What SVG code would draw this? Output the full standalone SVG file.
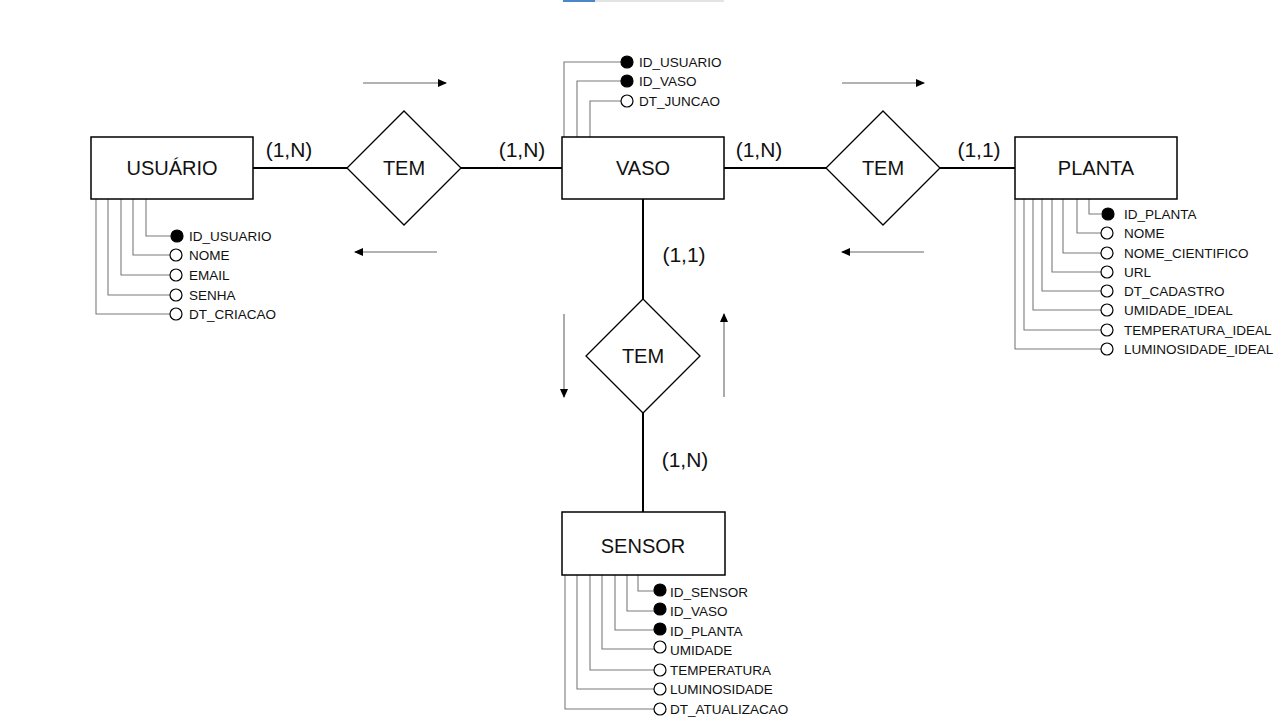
<svg xmlns="http://www.w3.org/2000/svg" width="1287" height="723" viewBox="0 0 1287 723">
<defs>
<style>
.ent{fill:#fff;stroke:#000;stroke-width:1.5}
.rel{fill:#fff;stroke:#000;stroke-width:1.3}
.name{font-family:"Liberation Sans",Arial,sans-serif;font-size:20px;fill:#111;text-anchor:middle}
.card{font-family:"Liberation Sans",Arial,sans-serif;font-size:21px;fill:#111;text-anchor:middle}
.attr{font-family:"Liberation Sans",Arial,sans-serif;font-size:13.5px;fill:#111}
.al{fill:none;stroke:#7a7a7a;stroke-width:1.1}
.pk{fill:#000;stroke:#000;stroke-width:1.2}
.op{fill:#fff;stroke:#000;stroke-width:1.2}
.conn{fill:none;stroke:#000;stroke-width:2}
.dir{fill:none;stroke:#666;stroke-width:1.1}
</style>
<marker id="ah" markerWidth="9" markerHeight="8" refX="8" refY="4" orient="auto" markerUnits="userSpaceOnUse">
<path d="M0,0 L9,4 L0,8 Z" fill="#000"/>
</marker>
</defs>
<rect width="1287" height="723" fill="#fff"/>
<rect x="595" y="0" width="129" height="2" fill="#e3e3e3"/>
<rect x="563" y="0" width="32" height="2" fill="#4a86c8"/>

<g id="connectors">
<line class="conn" x1="253" y1="168" x2="347" y2="168"/>
<line class="conn" x1="461" y1="168" x2="562" y2="168"/>
<line class="conn" x1="724" y1="168" x2="826" y2="168"/>
<line class="conn" x1="940" y1="168" x2="1015" y2="168"/>
<line class="conn" x1="643" y1="199" x2="643" y2="299"/>
<line class="conn" x1="643" y1="413" x2="643" y2="512"/>
<line class="dir" x1="363" y1="83" x2="446" y2="83" marker-end="url(#ah)"/>
<line class="dir" x1="437" y1="252" x2="355" y2="252" marker-end="url(#ah)"/>
<line class="dir" x1="842" y1="83" x2="924" y2="83" marker-end="url(#ah)"/>
<line class="dir" x1="924" y1="252" x2="842" y2="252" marker-end="url(#ah)"/>
<line class="dir" x1="564" y1="314" x2="564" y2="397" marker-end="url(#ah)"/>
<line class="dir" x1="724" y1="397" x2="724" y2="314" marker-end="url(#ah)"/>
<text class="card" x="289" y="157">(1,N)</text>
<text class="card" x="522" y="157">(1,N)</text>
<text class="card" x="759" y="157">(1,N)</text>
<text class="card" x="979" y="157">(1,1)</text>
<text class="card" x="684" y="262">(1,1)</text>
<text class="card" x="685" y="467">(1,N)</text>
</g>

<g id="usuario">
<polyline class="al" points="146,199 146,236 171,236"/>
<polyline class="al" points="133,199 133,255 170,255"/>
<polyline class="al" points="121,199 121,275 170,275"/>
<polyline class="al" points="108,199 108,295 170,295"/>
<polyline class="al" points="96,199 96,314 170,314"/>
<rect class="ent" x="91" y="137" width="162" height="62"/>
<text class="name" x="172" y="175">USUÁRIO</text>
<circle class="pk" cx="177" cy="236" r="6"/>
<circle class="op" cx="176" cy="255" r="6"/>
<circle class="op" cx="176" cy="275" r="6"/>
<circle class="op" cx="176" cy="295" r="6"/>
<circle class="op" cx="176" cy="314" r="6"/>
<text class="attr" x="189" y="241">ID_USUARIO</text>
<text class="attr" x="189" y="260">NOME</text>
<text class="attr" x="189" y="280">EMAIL</text>
<text class="attr" x="189" y="300">SENHA</text>
<text class="attr" x="189" y="319">DT_CRIACAO</text>
</g>

<g id="tem1">
<polygon class="rel" points="404,111 461,168 404,225 347,168"/>
<text class="name" x="404" y="175">TEM</text>
</g>

<g id="vaso">
<polyline class="al" points="564,137 564,62 621,62"/>
<polyline class="al" points="577,137 577,81 621,81"/>
<polyline class="al" points="590,137 590,101 621,101"/>
<rect class="ent" x="562" y="137" width="162" height="62"/>
<text class="name" x="643" y="175">VASO</text>
<circle class="pk" cx="627" cy="62" r="6"/>
<circle class="pk" cx="627" cy="81" r="6"/>
<circle class="op" cx="627" cy="101" r="6"/>
<text class="attr" x="639" y="67">ID_USUARIO</text>
<text class="attr" x="639" y="86">ID_VASO</text>
<text class="attr" x="639" y="106">DT_JUNCAO</text>
</g>

<g id="tem2">
<polygon class="rel" points="883,111 940,168 883,225 826,168"/>
<text class="name" x="883" y="175">TEM</text>
</g>

<g id="planta">
<polyline class="al" points="1089,199 1089,214 1101,214"/>
<polyline class="al" points="1077,199 1077,233 1101,233"/>
<polyline class="al" points="1063,199 1063,253 1101,253"/>
<polyline class="al" points="1052,199 1052,272 1101,272"/>
<polyline class="al" points="1042,199 1042,291 1101,291"/>
<polyline class="al" points="1033,199 1033,310 1101,310"/>
<polyline class="al" points="1024,199 1024,330 1101,330"/>
<polyline class="al" points="1015,199 1015,349 1101,349"/>
<rect class="ent" x="1015" y="137" width="162" height="62"/>
<text class="name" x="1096" y="175">PLANTA</text>
<circle class="pk" cx="1108" cy="214" r="6"/>
<circle class="op" cx="1107" cy="233" r="6"/>
<circle class="op" cx="1107" cy="253" r="6"/>
<circle class="op" cx="1107" cy="272" r="6"/>
<circle class="op" cx="1107" cy="291" r="6"/>
<circle class="op" cx="1107" cy="310" r="6"/>
<circle class="op" cx="1107" cy="330" r="6"/>
<circle class="op" cx="1107" cy="349" r="6"/>
<text class="attr" x="1124" y="219">ID_PLANTA</text>
<text class="attr" x="1124" y="238">NOME</text>
<text class="attr" x="1124" y="258">NOME_CIENTIFICO</text>
<text class="attr" x="1124" y="277">URL</text>
<text class="attr" x="1124" y="296">DT_CADASTRO</text>
<text class="attr" x="1124" y="315">UMIDADE_IDEAL</text>
<text class="attr" x="1124" y="335">TEMPERATURA_IDEAL</text>
<text class="attr" x="1124" y="354">LUMINOSIDADE_IDEAL</text>
</g>

<g id="tem3">
<polygon class="rel" points="643,299 700,356 643,413 586,356"/>
<text class="name" x="643" y="363">TEM</text>
</g>

<g id="sensor">
<polyline class="al" points="638,575 638,591 654,591"/>
<polyline class="al" points="627,575 627,611 654,611"/>
<polyline class="al" points="615,575 615,630 654,630"/>
<polyline class="al" points="602,575 602,649 654,649"/>
<polyline class="al" points="590,575 590,670 654,670"/>
<polyline class="al" points="577,575 577,689 654,689"/>
<polyline class="al" points="565,575 565,709 654,709"/>
<rect class="ent" x="562" y="512" width="163" height="63"/>
<text class="name" x="643" y="553">SENSOR</text>
<circle class="pk" cx="660" cy="590" r="6"/>
<circle class="pk" cx="660" cy="609" r="6"/>
<circle class="pk" cx="660" cy="629" r="6"/>
<circle class="op" cx="660" cy="647" r="6"/>
<circle class="op" cx="660" cy="670" r="6"/>
<circle class="op" cx="660" cy="689" r="6"/>
<circle class="op" cx="660" cy="709" r="6"/>
<text class="attr" x="670" y="597">ID_SENSOR</text>
<text class="attr" x="670" y="616">ID_VASO</text>
<text class="attr" x="670" y="636">ID_PLANTA</text>
<text class="attr" x="670" y="655">UMIDADE</text>
<text class="attr" x="670" y="675">TEMPERATURA</text>
<text class="attr" x="670" y="694">LUMINOSIDADE</text>
<text class="attr" x="670" y="714">DT_ATUALIZACAO</text>
</g>
</svg>
